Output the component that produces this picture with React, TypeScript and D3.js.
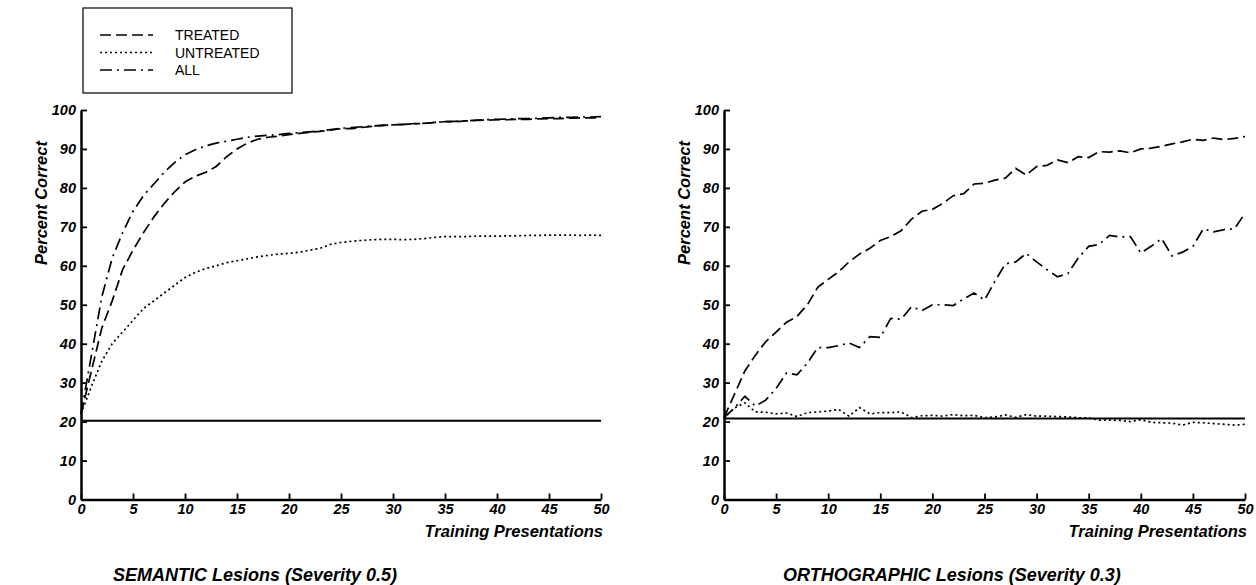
import * as d3 from 'd3';
import React, { useEffect, useRef } from 'react';

// percent correct per training presentation (0..50)
const semTreated = [22, 33, 44, 51, 59, 64, 68.5, 72.5, 76, 79, 81.5, 83, 84, 85.5, 88, 90, 91.5, 92.5, 93, 93.3, 93.7, 94, 94.3, 94.5, 94.8, 95.2, 95.2, 95.5, 95.8, 96, 96.2, 96.3, 96.5, 96.5, 96.8, 97, 97, 97.2, 97.3, 97.4, 97.5, 97.5, 97.6, 97.6, 97.7, 97.8, 97.8, 97.9, 98, 98, 98];
const semUntreated = [22, 29, 35.5, 40, 43, 46, 49, 51, 53, 55, 57, 58.3, 59.3, 60, 60.8, 61.3, 61.8, 62.3, 62.7, 63, 63.2, 63.5, 64, 64.5, 65.5, 66, 66.3, 66.5, 66.7, 66.8, 66.8, 66.7, 66.8, 67, 67.3, 67.5, 67.5, 67.5, 67.6, 67.6, 67.6, 67.7, 67.7, 67.8, 67.8, 67.9, 67.9, 67.9, 67.8, 67.9, 67.8];
const semAll = [22, 37, 52, 62, 68.5, 74, 78, 81, 84, 86.5, 88.5, 89.8, 90.8, 91.5, 92, 92.5, 93, 93.3, 93.5, 93.7, 94, 94.2, 94.4, 94.6, 95, 95.3, 95.5, 95.7, 95.9, 96.1, 96.2, 96.3, 96.4, 96.6, 96.8, 97, 97.1, 97.2, 97.4, 97.5, 97.6, 97.7, 97.8, 97.8, 97.9, 98, 98.1, 98.1, 98.2, 98.2, 98.3];

const orthTreated = [21, 27, 33, 37, 40.5, 43, 45.5, 47, 50, 54.5, 56.5, 58.5, 61, 63, 64.5, 66.5, 67.5, 69, 72, 74, 74.5, 76, 78, 78.5, 81, 81.2, 82, 82.5, 85, 83.3, 85.5, 85.8, 87.2, 86.5, 88, 87.8, 89.3, 89.2, 89.5, 89, 90, 90.2, 90.7, 91.3, 91.8, 92.5, 92.2, 92.8, 92.4, 92.7, 93.2];
const orthUntreated = [21, 23.5, 24.8, 22.5, 22.4, 22, 22.2, 21.3, 22.3, 22.5, 22.7, 23.1, 21.4, 23.6, 22, 22.3, 22.3, 22.5, 21, 21.5, 21.6, 21.4, 21.8, 21.5, 21.6, 21, 21.2, 21.7, 21.1, 21.8, 21.4, 21.4, 21.3, 21.2, 21, 20.9, 20.4, 20.4, 20.3, 20, 20.5, 19.8, 19.7, 19.6, 19.1, 19.8, 19.7, 19.5, 19.3, 19.1, 19.3];
const orthAll = [21, 23.5, 26.5, 24, 25.5, 28.5, 32.5, 32, 35, 39, 39, 39.5, 40.2, 39, 41.8, 41.6, 46.5, 46.3, 49.5, 48.5, 50, 50, 49.8, 51.5, 53, 51.2, 56, 60.5, 61, 63.2, 61, 59, 57.2, 58, 62, 65, 65.5, 67.8, 67.4, 67.5, 63.3, 65, 67, 62.5, 63.5, 65, 69.5, 68.7, 69.3, 69.5, 73.5];

const legendLabels = ['TREATED', 'UNTREATED', 'ALL'];
const dashes = ['11,5', '2,3', '12,5,2,5'];

const W = 1256;
const H = 585;
const FONT = '"Liberation Sans", Arial, Helvetica, sans-serif';

interface PanelCfg {
  left: number;
  right: number;
  title: string;
  titleX: number;
  chance: number;
  series: number[][];
}

const panels: PanelCfg[] = [
  { left: 81, right: 601, title: 'SEMANTIC Lesions (Severity 0.5)', titleX: 255, chance: 20.2, series: [semTreated, semUntreated, semAll] },
  { left: 724, right: 1245, title: 'ORTHOGRAPHIC Lesions (Severity 0.3)', titleX: 952, chance: 20.8, series: [orthTreated, orthUntreated, orthAll] },
];

const App: React.FC = () => {
  const ref = useRef<SVGSVGElement>(null);

  useEffect(() => {
    if (!ref.current) return;
    const svg = d3.select(ref.current);
    svg.selectAll('*').remove();

    const top = 110;
    const bottom = 499.5;

    panels.forEach((p) => {
      const x = d3.scaleLinear().domain([0, 50]).range([p.left, p.right]);
      const y = d3.scaleLinear().domain([0, 100]).range([bottom, top]);
      const g = svg.append('g');

      const yAxis = g
        .append('g')
        .attr('transform', `translate(${p.left},0)`)
        .call(d3.axisLeft(y).tickValues(d3.range(0, 101, 10)).tickSizeInner(-6).tickSizeOuter(0).tickPadding(5));
      const xAxis = g
        .append('g')
        .attr('transform', `translate(0,${bottom})`)
        .call(d3.axisBottom(x).tickValues(d3.range(0, 51, 5)).tickSizeInner(-6).tickSizeOuter(0).tickPadding(4));

      [yAxis, xAxis].forEach((ax) => {
        ax.select('.domain').attr('stroke', '#000').attr('stroke-width', 2.5);
        ax.selectAll('.tick line').attr('stroke', '#000').attr('stroke-width', 1.8);
        ax.selectAll('.tick text')
          .attr('fill', '#000')
          .style('font-family', FONT)
          .style('font-size', '14.5px')
          .style('font-weight', 'bold')
          .style('font-style', 'italic');
      });

      // chance line
      g.append('line')
        .attr('x1', x(0))
        .attr('x2', x(50))
        .attr('y1', y(p.chance))
        .attr('y2', y(p.chance))
        .attr('stroke', '#000')
        .attr('stroke-width', 2);

      const line = d3
        .line<number>()
        .x((_, i) => x(i))
        .y((d) => y(d));

      p.series.forEach((s, i) => {
        g.append('path')
          .attr('d', line(s) || '')
          .attr('fill', 'none')
          .attr('stroke', '#000')
          .attr('stroke-width', 1.7)
          .attr('stroke-dasharray', dashes[i]);
      });

      const txt = (t: string, tx: number, ty: number, size: number, anchor: string) =>
        g.append('text')
          .attr('x', tx)
          .attr('y', ty)
          .attr('text-anchor', anchor)
          .style('font-family', FONT)
          .style('font-size', `${size}px`)
          .style('font-weight', 'bold')
          .style('font-style', 'italic')
          .text(t);

      txt('Training Presentations', p.right + 2, 537, 16.5, 'end');
      txt(p.title, p.titleX, 581, 18, 'middle');
      txt('Percent Correct', 0, 0, 16.5, 'middle').attr('transform', `translate(${p.left - 34},${203}) rotate(-90)`);
    });

    // legend
    const lg = svg.append('g');
    lg.append('rect').attr('x', 83).attr('y', 8).attr('width', 209).attr('height', 85).attr('fill', 'none').attr('stroke', '#000').attr('stroke-width', 1.2);
    legendLabels.forEach((l, i) => {
      const ly = 35 + i * 17.5;
      lg.append('line').attr('x1', 100).attr('x2', 153).attr('y1', ly).attr('y2', ly).attr('stroke', '#000').attr('stroke-width', 1.5).attr('stroke-dasharray', dashes[i]);
      lg.append('text')
        .attr('x', 175)
        .attr('y', ly + 5)
        .style('font-family', FONT)
        .style('font-size', '14px')
        .text(l);
    });
  }, []);

  return <svg ref={ref} width={W} height={H} viewBox={`0 0 ${W} ${H}`} style={{ position: 'absolute', left: 0, top: 0, background: '#fff' }}></svg>;
};

export default App;
